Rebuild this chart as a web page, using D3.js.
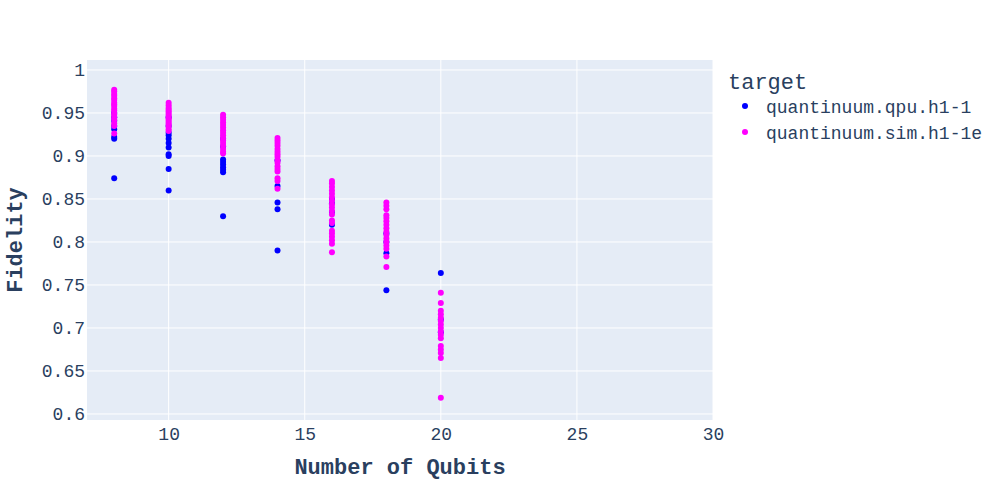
<!DOCTYPE html>
<html>
<head>
<meta charset="utf-8">
<script src="https://cdn.jsdelivr.net/npm/d3@7"></script>
<style>
  html, body { margin: 0; padding: 0; background: #fff; }
  svg { display: block; font-family: "Liberation Mono", "Courier New", monospace; }
</style>
</head>
<body>
<svg id="chart" width="1000" height="500"></svg>
<script>
// ---- data ----
const qubitCounts = [8, 10, 12, 14, 16, 18, 20];
const qpuFidelity = [
  [0.874, 0.920, 0.922, 0.931, 0.935, 0.941, 0.945, 0.950],
  [0.860, 0.885, 0.900, 0.902, 0.910, 0.915, 0.920, 0.924, 0.927, 0.935, 0.945],
  [0.830, 0.881, 0.884, 0.887, 0.890, 0.893, 0.896, 0.911, 0.920],
  [0.790, 0.838, 0.846, 0.865, 0.895],
  [0.820, 0.835, 0.845, 0.850],
  [0.744, 0.787, 0.800, 0.810],
  [0.764, 0.695, 0.710]
];
const simFidelity = [
  [0.926, 0.935, 0.938, 0.942, 0.945, 0.948, 0.950, 0.953, 0.955, 0.958, 0.960, 0.962, 0.965, 0.967, 0.970, 0.972, 0.975, 0.977],
  [0.929, 0.931, 0.934, 0.936, 0.938, 0.940, 0.942, 0.944, 0.946, 0.948, 0.950, 0.952, 0.954, 0.956, 0.959, 0.962],
  [0.903, 0.905, 0.908, 0.912, 0.915, 0.918, 0.921, 0.924, 0.927, 0.930, 0.933, 0.936, 0.939, 0.942, 0.945, 0.948],
  [0.862, 0.871, 0.874, 0.882, 0.885, 0.888, 0.892, 0.895, 0.899, 0.902, 0.905, 0.908, 0.912, 0.915, 0.918, 0.921],
  [0.788, 0.798, 0.802, 0.806, 0.810, 0.813, 0.822, 0.825, 0.832, 0.836, 0.840, 0.844, 0.848, 0.852, 0.856, 0.860, 0.864, 0.868, 0.871],
  [0.771, 0.783, 0.792, 0.796, 0.800, 0.804, 0.808, 0.812, 0.816, 0.820, 0.824, 0.828, 0.831, 0.838, 0.842, 0.846],
  [0.619, 0.665, 0.671, 0.675, 0.679, 0.688, 0.692, 0.696, 0.700, 0.704, 0.708, 0.712, 0.716, 0.720, 0.729, 0.741]
];
const seriesNames = ["quantinuum.qpu.h1-1", "quantinuum.sim.h1-1e"];
const seriesColors = ["#0000ff", "#ff00ff"];
const xTicks = [10, 15, 20, 25, 30];
const yTicks = [0.6, 0.65, 0.7, 0.75, 0.8, 0.85, 0.9, 0.95, 1];
const xTitle = "Number of Qubits";
const yTitle = "Fidelity";
const legendTitle = "target";

// ---- layout ----
const svg = d3.select("#chart");
const plot = { left: 87, right: 713, top: 60, bottom: 420 };
const x = d3.scaleLinear().domain([7, 30]).range([plot.left, plot.right]);
const y = d3.scaleLinear().domain([0.5930, 1.0116]).range([plot.bottom, plot.top]);
const textColor = "#2a3f5f";

svg.append("rect")
  .attr("x", plot.left).attr("y", plot.top)
  .attr("width", plot.right - plot.left).attr("height", plot.bottom - plot.top)
  .attr("fill", "#E5ECF6");

// gridlines
const grid = svg.append("g");
grid.selectAll("line.y").data(yTicks).join("line")
  .attr("x1", plot.left).attr("x2", plot.right)
  .attr("y1", d => y(d)).attr("y2", d => y(d))
  .attr("stroke", "#fff").attr("stroke-width", 1);
grid.selectAll("line.x").data(xTicks).join("line")
  .attr("y1", plot.top).attr("y2", plot.bottom)
  .attr("x1", d => x(d)).attr("x2", d => x(d))
  .attr("stroke", "#fff").attr("stroke-width", 1);

// axes
const xAxis = d3.axisBottom(x).tickValues(xTicks).tickSize(0).tickPadding(7).tickFormat(d3.format("d"));
const gx = svg.append("g").attr("transform", `translate(0,${plot.bottom})`).call(xAxis);
gx.select(".domain").remove();
gx.selectAll("text").attr("fill", textColor).style("font-size", "18px").style("font-family", "'Liberation Mono', monospace");

const yAxis = d3.axisLeft(y).tickValues(yTicks).tickSize(0).tickPadding(2).tickFormat(d => d3.format("")(+d.toFixed(2)));
const gy = svg.append("g").attr("transform", `translate(${plot.left},0)`).call(yAxis);
gy.select(".domain").remove();
gy.selectAll("text").attr("fill", textColor).style("font-size", "18px").style("font-family", "'Liberation Mono', monospace");

// titles
svg.append("text")
  .attr("x", (plot.left + plot.right) / 2).attr("y", 474)
  .attr("text-anchor", "middle").attr("fill", textColor)
  .style("font-size", "22px").style("font-weight", "bold")
  .text(xTitle);
svg.append("text")
  .attr("transform", `translate(22,${(plot.top + plot.bottom) / 2}) rotate(-90)`)
  .attr("text-anchor", "middle").attr("fill", textColor)
  .style("font-size", "22px").style("font-weight", "bold")
  .text(yTitle);

// points
const series = [qpuFidelity, simFidelity];
series.forEach((s, si) => {
  const pts = [];
  s.forEach((vals, ci) => vals.forEach(v => pts.push({ q: qubitCounts[ci], f: v })));
  svg.append("g").selectAll("circle").data(pts).join("circle")
    .attr("cx", d => x(d.q)).attr("cy", d => y(d.f))
    .attr("r", 3).attr("fill", seriesColors[si]);
});

// legend
const lg = svg.append("g");
lg.append("text").attr("x", 728).attr("y", 89).attr("fill", textColor)
  .style("font-size", "22px").text(legendTitle);
seriesNames.forEach((n, i) => {
  const cy = 106 + i * 26;
  lg.append("circle").attr("cx", 745).attr("cy", cy).attr("r", 3).attr("fill", seriesColors[i]);
  lg.append("text").attr("x", 766).attr("y", cy + 6.5).attr("fill", textColor)
    .style("font-size", "18px").text(n);
});
</script>
</body>
</html>
